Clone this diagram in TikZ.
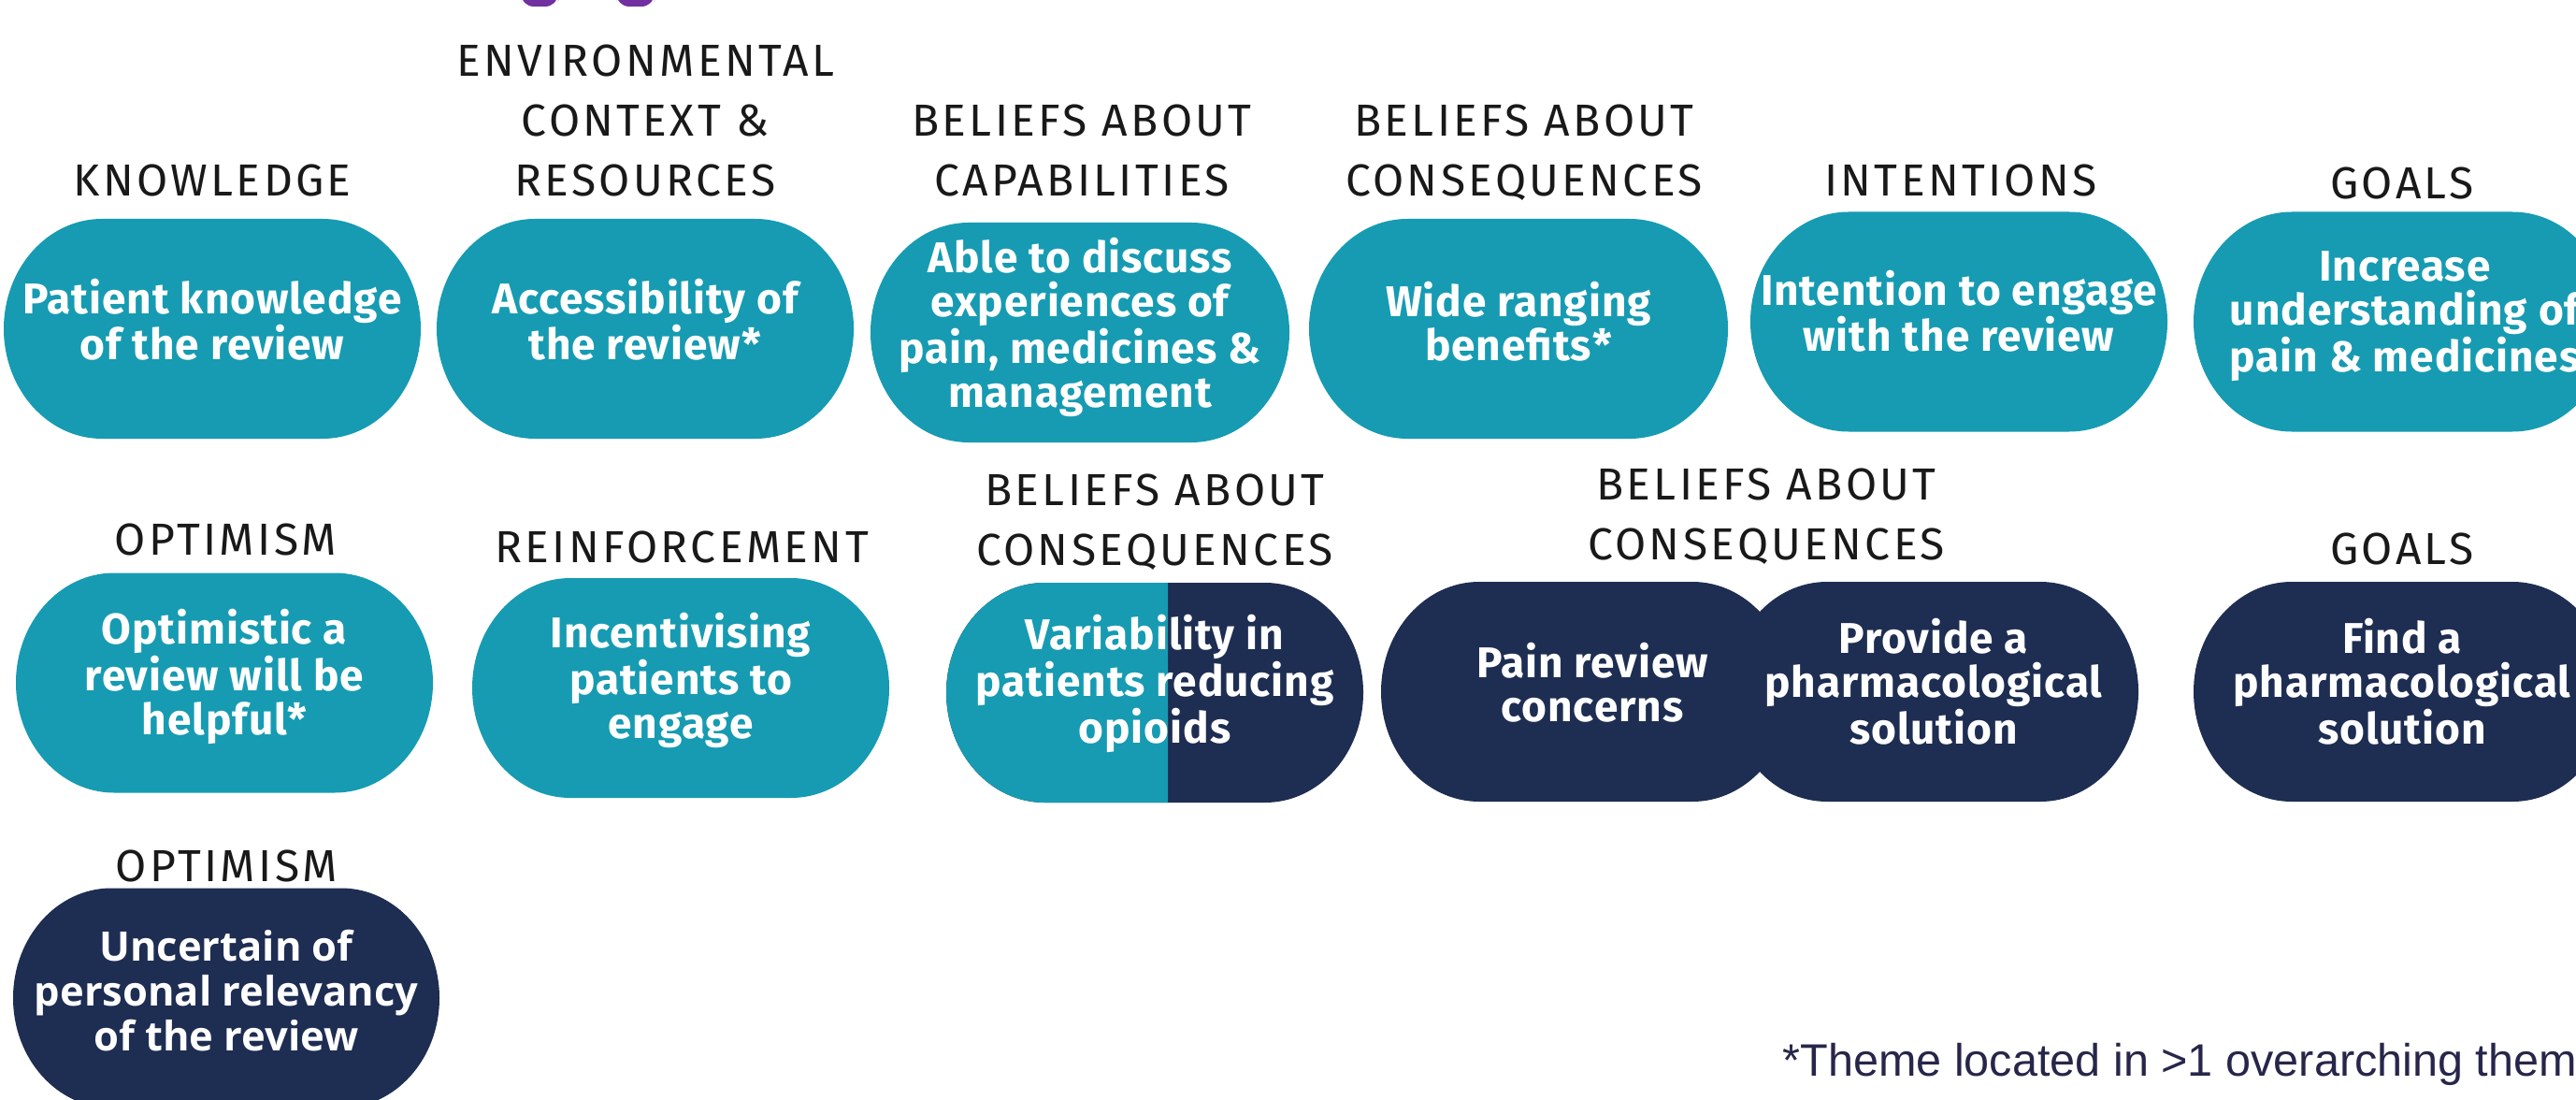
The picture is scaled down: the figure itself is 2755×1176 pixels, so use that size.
\documentclass[tikz,border=0pt]{standalone}
\usepackage{fontspec}
\setmainfont{Fira Sans}
\newfontfamily\headfont[LetterSpace=7]{Fira Sans}
\newfontfamily\themefont[LetterSpace=2]{Fira Sans}
\newfontfamily\notefont{Liberation Sans}
\newfontfamily\widefont{Open Sans}
\definecolor{themeteal}{HTML}{169BB2}
\definecolor{themenavy}{HTML}{1E2D52}
\definecolor{titlepurple}{HTML}{7030A0}
\definecolor{notenavy}{HTML}{27264A}
\tikzset{
  heading/.style={font=\headfont\fontsize{24}{32}\selectfont, align=center,
    inner sep=0pt, anchor=base, text=black!90},
  theme/.style={font=\themefont\fontsize{23}{23.5}\selectfont\bfseries, align=center,
    inner sep=0pt, anchor=base, text=white},
}

\begin{document}
\begin{tikzpicture}[x=0.5pt, y=-0.5pt]

  \newcommand\Rx{105}
  \newcommand\Hh{117.5}
  % pill: centre x, centre y, half width, fill
  \newcommand\pill[4]{%
    \fill[#4] (#1-#3+\Rx,#2-\Hh) -- (#1+#3-\Rx,#2-\Hh)
      .. controls (#1+#3-0.448*\Rx,#2-\Hh) and (#1+#3,#2-0.552*\Hh) .. (#1+#3,#2)
      .. controls (#1+#3,#2+0.552*\Hh) and (#1+#3-0.448*\Rx,#2+\Hh) .. (#1+#3-\Rx,#2+\Hh)
      -- (#1-#3+\Rx,#2+\Hh)
      .. controls (#1-#3+0.448*\Rx,#2+\Hh) and (#1-#3,#2+0.552*\Hh) .. (#1-#3,#2)
      .. controls (#1-#3,#2-0.552*\Hh) and (#1-#3+0.448*\Rx,#2-\Hh) .. (#1-#3+\Rx,#2-\Hh)
      -- cycle;}

  \useasboundingbox (0,0) rectangle (2755,1176);
  \clip (0,0) rectangle (2755,1176);

  %% title runs off the top
  \fill[titlepurple, rounded corners=7] (557,-12) rectangle (597,7);
  \fill[titlepurple, rounded corners=7] (659,-12) rectangle (700,7);

  %% row 1
  \pill{227}{351.5}{223}{themeteal}
  \pill{690}{351.5}{223}{themeteal}
  \pill{1155}{355.5}{224}{themeteal}
  \pill{1624}{351.5}{224}{themeteal}
  \pill{2095}{344}{223}{themeteal}
  \pill{2569}{344}{223}{themeteal}

  %% row 2
  \pill{240}{730}{223}{themeteal}
  \pill{728}{735.5}{223}{themeteal}
  \pill{1235}{740.5}{223}{themenavy}
  \begin{scope}
    \clip (1000,600) rectangle (1249,880);
    \pill{1235}{740.5}{223}{themeteal}
  \end{scope}
  \pill{1696}{739.5}{219}{themenavy}
  \pill{2068}{739.5}{219}{themenavy}
  \pill{2569}{739.5}{223}{themenavy}

  %% row 3
  \pill{242}{1067}{228}{themenavy}

  % headings sit on the baseline of their last line
  \node[heading] (knowledgeLbl) at (227,210) {KNOWLEDGE};
  \node[heading] (contextLbl) at (690,210) {ENVIRONMENTAL\\CONTEXT \&\\RESOURCES};
  \node[heading] (capableLbl) at (1157,210) {BELIEFS ABOUT\\CAPABILITIES};
  \node[heading] (benefitsLbl) at (1630,210) {BELIEFS ABOUT\\CONSEQUENCES};
  \node[heading] (intentionLbl) at (2097,210) {INTENTIONS};
  \node[heading] (understandLbl) at (2569,213) {GOALS};
  \node[heading] (helpfulLbl) at (241,593) {OPTIMISM};
  \node[heading] (incentiveLbl) at (729,601) {REINFORCEMENT};
  \node[heading] (opioidsLbl) at (1235,604) {BELIEFS ABOUT\\CONSEQUENCES};
  \node[heading] (concernsLbl) at (1889,598) {BELIEFS ABOUT\\CONSEQUENCES};
  \node[heading] (findsolLbl) at (2569,603) {GOALS};
  \node[heading] (relevancyLbl) at (242,942) {OPTIMISM};

  \node[theme] (knowledge) at (227,385) {Patient knowledge\\of the review};
  \node[theme] (access) at (690,385) {Accessibility of\\the review*};
  \node[theme] (capable) at (1155,435) {Able to discuss\\experiences of\\pain, medicines \&\\management};
  \node[theme] (benefits) at (1624,386) {Wide ranging\\benefits*};
  \node[theme] (intention) at (2095,376) {Intention to engage\\with the review};
  \node[theme] (understand) at (2572,397) {Increase\\understanding of\\pain \& medicines};
  \node[theme] (helpful) at (240,785) {Optimistic a\\review will be\\helpful*};
  \node[theme] (incentive) at (728,789) {Incentivising\\patients to\\engage};
  \node[theme] (opioids) at (1235,794) {Variability in\\patients reducing\\opioids};
  \node[theme] (concerns) at (1703,771) {Pain review\\concerns};
  \node[theme] (provide) at (2068,795) {Provide a\\pharmacological\\solution};
  \node[theme] (findsol) at (2569,795) {Find a\\pharmacological\\solution};
  \node[theme, font=\fontsize{21.75}{24}\selectfont\widefont\bfseries] (relevancy) at (242,1123)
    {Uncertain of\\personal relevancy\\of the review};

  \node[anchor=base west, inner sep=0pt, text=notenavy,
    font=\notefont\fontsize{24.3}{28}\selectfont] (footnote) at (1906,1150)
    {*Theme located in >1 overarching them};

\end{tikzpicture}
\end{document}
